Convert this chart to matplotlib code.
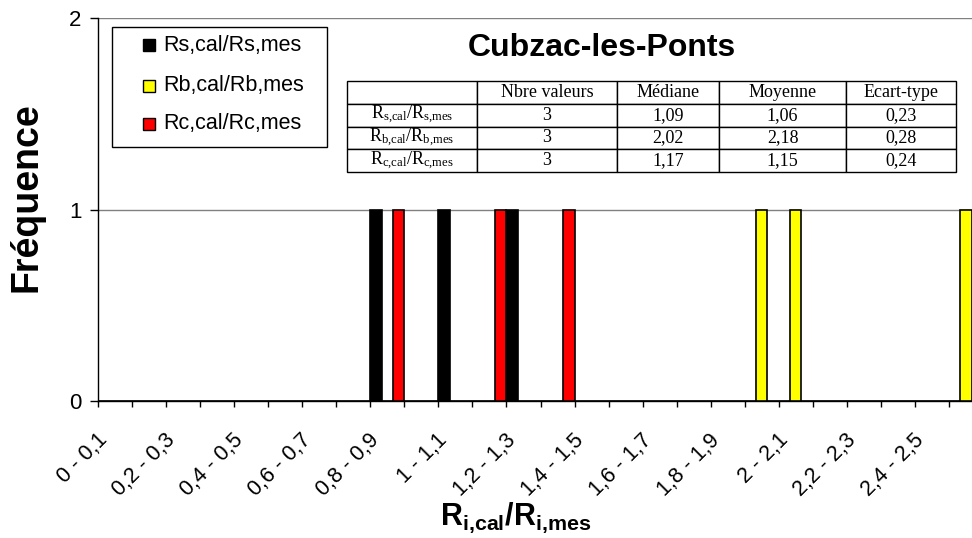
import matplotlib
matplotlib.use("Agg")
import matplotlib.pyplot as plt
import matplotlib.transforms as mtransforms
from matplotlib.patches import Rectangle
import numpy as np

# ---- data -------------------------------------------------------------
categories = ["0 - 0,1", "0,1 - 0,2", "0,2 - 0,3", "0,3 - 0,4", "0,4 - 0,5",
              "0,5 - 0,6", "0,6 - 0,7", "0,7 - 0,8", "0,8 - 0,9", "0,9 - 1",
              "1 - 1,1", "1,1 - 1,2", "1,2 - 1,3", "1,3 - 1,4", "1,4 - 1,5",
              "1,5 - 1,6", "1,6 - 1,7", "1,7 - 1,8", "1,8 - 1,9", "1,9 - 2",
              "2 - 2,1", "2,1 - 2,2", "2,2 - 2,3", "2,3 - 2,4", "2,4 - 2,5",
              "2,5 - 2,6"]
rs = [0, 0, 0, 0, 0, 0, 0, 0, 1, 0, 1, 0, 1, 0, 0, 0, 0, 0, 0, 0, 0, 0, 0, 0, 0, 0]
rb = [0, 0, 0, 0, 0, 0, 0, 0, 0, 0, 0, 0, 0, 0, 0, 0, 0, 0, 0, 1, 1, 0, 0, 0, 0, 1]
rc = [0, 0, 0, 0, 0, 0, 0, 0, 1, 0, 0, 1, 0, 1, 0, 0, 0, 0, 0, 0, 0, 0, 0, 0, 0, 0]
series_names = ["Rs,cal/Rs,mes", "Rb,cal/Rb,mes", "Rc,cal/Rc,mes"]
series_colors = ["#000000", "#FFFF00", "#FF0000"]
yticks = [0, 1, 2]

table_header = ["", "Nbre valeurs", "Médiane", "Moyenne", "Ecart-type"]
table_rows = [r"$\mathregular{R_{s{,}cal}/R_{s{,}mes}}$",
              r"$\mathregular{R_{b{,}cal}/R_{b{,}mes}}$",
              r"$\mathregular{R_{c{,}cal}/R_{c{,}mes}}$"]
n_values = ["3", "3", "3"]
medians = ["1,09", "2,02", "1,17"]
means = ["1,06", "2,18", "1,15"]
std_devs = ["0,23", "0,28", "0,24"]

title = "Cubzac-les-Ponts"

# ---- figure -----------------------------------------------------------
W, H = 972, 538
plt.rcParams["font.family"] = ["Liberation Sans", "DejaVu Sans"]
fig = plt.figure(figsize=(W / 100, H / 100), dpi=100)


def fx(px):
    return px / W


def fy(py):
    return 1 - py / H


ax = fig.add_axes([fx(98), fy(401), fx(972) - fx(98), (401 - 18) / H])

x = np.arange(len(categories))
w = 1 / 3
for offs, vals, col in zip((-w, 0, w), (rs, rb, rc), series_colors):
    ax.bar(x + offs, vals, width=w, color=col, edgecolor="black",
           linewidth=1.2, zorder=3)

ax.set_yticks(yticks)
ax.set_yticklabels([str(v) for v in yticks], fontsize=16)
ax.set_xticks([])
ax.set_xticks(np.arange(-0.5, len(categories), 1), minor=True)
# limits are set after the ticks so the tick call cannot widen the view
ax.set_xlim(-0.5, -0.5 + (972 - 99) / 34)
ax.set_ylim(0, 2)
ax.yaxis.grid(True, color="#808080", linewidth=1.0, zorder=0)
ax.set_axisbelow(True)
for side in ("top", "right"):
    ax.spines[side].set_visible(False)
for side in ("left", "bottom"):
    ax.spines[side].set_color("black")
    ax.spines[side].set_linewidth(1.0)
ax.tick_params(axis="y", length=6, width=1, pad=6, direction="out")
ax.tick_params(axis="x", which="minor", length=4.5, width=1, direction="out")

# rotated category labels (every other one)
offset = mtransforms.ScaledTranslation(-11 / 100, -36 / 100, fig.dpi_scale_trans)
for i in range(0, len(categories), 2):
    ax.text(i, 0, categories[i], transform=ax.get_xaxis_transform() + offset,
            rotation=45, ha="right", va="center", rotation_mode="anchor",
            fontsize=15.5, clip_on=False)

# axis titles and chart title
fig.text(fx(27), fy(197), "Fréquence", rotation=90, ha="center", va="center",
         fontsize=27, fontweight="bold")
fig.text(fx(516), fy(525), r"$\mathregular{R_{i{,}cal}/R_{i{,}mes}}$",
         ha="center", va="baseline", fontsize=22, fontweight="bold")
fig.text(fx(602), fy(56), title, ha="center", va="baseline",
         fontsize=23, fontweight="bold")

# legend box
fig.patches.append(Rectangle((fx(112), fy(147)), fx(327) - fx(112), (147 - 27) / H,
                             transform=fig.transFigure, facecolor="white",
                             edgecolor="black", linewidth=1.0, zorder=5))
for k, (name, col) in enumerate(zip(series_names, series_colors)):
    yc = [45, 86, 124][k]
    fig.patches.append(Rectangle((fx(143), fy(yc + 6)), 12 / W, 12 / H,
                                 transform=fig.transFigure, facecolor=col,
                                 edgecolor="black", linewidth=1.0, zorder=6))
    fig.text(fx(163), fy(yc), name, ha="left", va="center", fontsize=15.5,
             zorder=7)

# statistics table
tax = fig.add_axes([fx(347), fy(172), fx(956) - fx(347), (172 - 81) / H])
tax.axis("off")
cells = [[r, n, m, mo, s] for r, n, m, mo, s in
         zip(table_rows, n_values, medians, means, std_devs)]
col_px = np.array([130, 140, 102, 127, 110])
tab = tax.table(cellText=cells, colLabels=table_header,
                colWidths=list(col_px / col_px.sum()), cellLoc="center",
                bbox=[0, 0, 1, 1])
tab.auto_set_font_size(False)
tab.set_fontsize(13)
for (r, c), cell in tab.get_celld().items():
    cell.set_edgecolor("black")
    cell.set_linewidth(1.0)
    cell.set_facecolor("white")
    t = cell.get_text()
    t.set_fontfamily(["Liberation Serif", "DejaVu Serif"])

fig.savefig("out.png", dpi=100)
